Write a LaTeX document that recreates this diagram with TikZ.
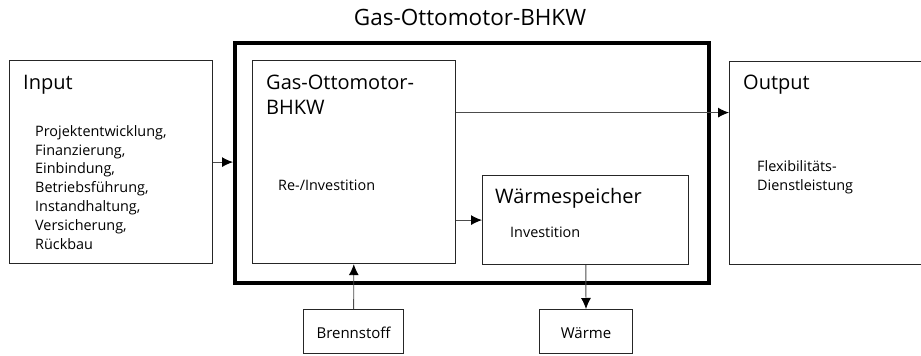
\documentclass[tikz,border=0pt]{standalone}
\usepackage{fontspec}
\setmainfont{Open Sans}
\usepackage{tikz}
\usetikzlibrary{arrows.meta, positioning}

\begin{document}
\begin{tikzpicture}[x=1pt, y=-1pt, >={Latex[length=11pt, width=10pt, color=black]},
    box/.style={draw=black!85, line width=1.2pt, rectangle, anchor=north west, inner sep=0pt},
    thickbox/.style={draw=black, line width=4pt, rectangle, anchor=north west, inner sep=0pt},
    head/.style={font=\fontsize{20}{25}\selectfont, anchor=base west, inner sep=0pt, align=left},
    body/.style={font=\fontsize{14.4}{18.8}\selectfont, anchor=base west, inner sep=0pt, align=left},
    flow/.style={->, draw=black!70, line width=0.9pt}]
    \useasboundingbox (0,0) rectangle (921,356);

    % Titel
    \node[font=\fontsize{22.5}{27}\selectfont, inner sep=0pt, anchor=base] (title) at (470,25) {Gas-Ottomotor-BHKW};

    % Rahmen
    \node[thickbox, minimum width=474pt, minimum height=240pt] (bhkw) at (233,41) {};

    % Boxen
    \node[box, minimum width=203pt, minimum height=203pt] (input) at (9,60) {};
    \node[box, minimum width=203pt, minimum height=203pt] (gas) at (252,60) {};
    \node[box, minimum width=206pt, minimum height=89pt] (speicher) at (482,175) {};
    \node[box, minimum width=200pt, minimum height=203pt] (output) at (729,61) {};
    \node[box, minimum width=100pt, minimum height=44pt] (fuel) at (303,309) {};
    \node[box, minimum width=93pt, minimum height=44pt] (waerme) at (539,309) {};

    % Texte (Grundlinie = letzte Zeile)
    \node[head] (inputlab) at (23,89) {Input};
    \node[body] (inputtxt) at (35,249) {Projektentwicklung,\\Finanzierung,\\Einbindung,\\Betriebsführung,\\Instandhaltung,\\Versicherung,\\Rückbau};
    \node[head] (gaslab) at (266,114) {Gas-Ottomotor-\\BHKW};
    \node[body] (gastxt) at (278,190) {Re-/Investition};
    \node[head] (speicherlab) at (495,203) {Wärmespeicher};
    \node[body] (speichertxt) at (510,237) {Investition};
    \node[head] (outputlab) at (743,89) {Output};
    \node[body] (outputtxt) at (757,190) {Flexibilitäts-\\Dienstleistung};
    \node[font=\fontsize{15}{18}\selectfont, inner sep=0pt, anchor=base] (fuellab) at ([yshift=-7pt]fuel.center) {Brennstoff};
    \node[font=\fontsize{15}{18}\selectfont, inner sep=0pt, anchor=base] (waermelab) at ([yshift=-7pt]waerme.center) {Wärme};

    % Pfeile
    \draw[flow] (input.east) -- (input.east -| bhkw.west);
    \draw[flow] ([yshift=49.5pt]gas.east) -- ([yshift=49.5pt]gas.east -| output.west);
    \draw[flow] (gas.east |- speicher.west) -- (speicher.west);
    \draw[flow] (fuel) -- (gas);
    \draw[flow] (speicher) -- (waerme);
\end{tikzpicture}
\end{document}
